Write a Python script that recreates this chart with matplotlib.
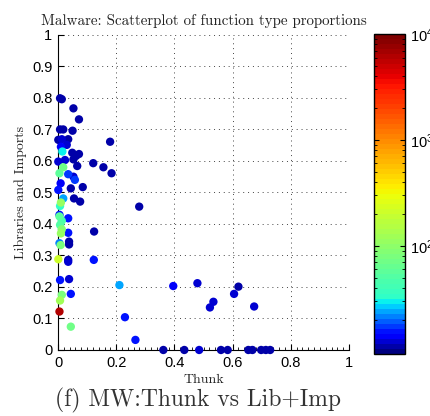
import matplotlib
matplotlib.use("Agg")
import matplotlib.pyplot as plt
import numpy as np
from matplotlib.colors import ListedColormap, LogNorm
from matplotlib.ticker import MultipleLocator

# Thunk proportion, Libraries+Imports proportion, sample count (colour)
thunk = [0.007, 0.013, 0.053, 0.072, 0.007, 0.018, 0.050, 0.001, 0.013, 0.035,
         0.030, 0.010, 0.015, 0.049, 0.072, 0.062, 0.053, 0.024, 0.001, 0.066,
         0.018, 0.005, 0.035, 0.053, 0.058, 0.009, 0.044, 0.085, 0.001, 0.018,
         0.055, 0.076, 0.010, 0.007, 0.005, 0.005, 0.035, 0.013, 0.007, 0.013,
         0.010, 0.035, 0.005, 0.009, 0.038, 0.038, 0.001, 0.035, 0.035, 0.007,
         0.038, 0.013, 0.044, 0.007, 0.005, 0.044,
         0.179, 0.121, 0.156, 0.184, 0.279, 0.124, 0.123, 0.211, 0.396, 0.479,
         0.230, 0.266, 0.522, 0.534, 0.605, 0.620, 0.674,
         0.362, 0.434, 0.485, 0.560, 0.583, 0.654, 0.668, 0.698, 0.714, 0.729]
lib_imp = [0.799, 0.796, 0.767, 0.732, 0.700, 0.700, 0.696, 0.667, 0.669, 0.669,
           0.651, 0.645, 0.630, 0.626, 0.622, 0.616, 0.605, 0.603, 0.598, 0.584,
           0.580, 0.561, 0.558, 0.550, 0.540, 0.529, 0.513, 0.517, 0.508, 0.481,
           0.481, 0.471, 0.468, 0.457, 0.429, 0.424, 0.418, 0.410, 0.397, 0.383,
           0.370, 0.372, 0.339, 0.333, 0.344, 0.335, 0.288, 0.286, 0.280, 0.222,
           0.225, 0.175, 0.178, 0.157, 0.122, 0.074,
           0.661, 0.593, 0.580, 0.561, 0.455, 0.376, 0.286, 0.206, 0.203, 0.212,
           0.104, 0.032, 0.135, 0.153, 0.178, 0.201, 0.138,
           0, 0, 0, 0, 0, 0, 0, 0, 0, 0]
count = [11, 11, 11, 11, 11, 11, 11, 11, 12, 11,
         12, 14, 30, 11, 11, 11, 11, 13, 13, 11,
         70, 55, 17, 12, 17, 14, 11, 11, 15, 25,
         11, 11, 110, 32, 16, 55, 16, 45, 50, 90,
         110, 16, 22, 80, 11, 11, 200, 11, 12, 16,
         13, 75, 16, 120, 6000, 70,
         11, 11, 11, 11, 11, 11, 15, 25, 14, 12,
         16, 15, 12, 12, 12, 11, 12,
         11, 11, 13, 11, 11, 11, 11, 11, 11, 11]

# jet, with blue..cyan squeezed into the bottom of the bar (as in the original figure)
jet = plt.get_cmap("jet")
t = np.linspace(0, 1, 64)
j = np.where(t < 0.165, t / 0.165 * 0.375, 0.40 + (t - 0.165) / 0.835 * 0.6)
cmap = ListedColormap(jet(j))
norm = LogNorm(vmin=9.5, vmax=1e4)

serif = "cmr10"
plt.rcParams["font.family"] = "Liberation Sans"

fig = plt.figure(figsize=(4.31, 4.16), dpi=100)
ax = fig.add_axes([0.1346, 0.1587, 0.6752, 0.7573])

order = np.argsort(count)
sc = ax.scatter(np.array(thunk)[order], np.array(lib_imp)[order], c=np.array(count)[order],
                cmap=cmap, norm=norm, s=36, edgecolors="none", clip_on=False, zorder=3)

ax.set_xlim(0, 1)
ax.set_ylim(0, 1)
ax.set_xticks([0, 0.2, 0.4, 0.6, 0.8, 1])
ax.set_xticklabels(["0", "0.2", "0.4", "0.6", "0.8", "1"])
ax.set_yticks(np.arange(0, 1.01, 0.1))
ax.set_yticklabels(["0"] + ["%.1f" % v for v in np.arange(0.1, 0.95, 0.1)] + ["1"])
ax.xaxis.set_minor_locator(MultipleLocator(0.02))
ax.tick_params(direction="in", labelsize=10.5, length=4, width=0.8, pad=4)
ax.tick_params(axis="x", which="minor", direction="in", length=2, width=0.6)
for s in ["top", "right"]:
    ax.spines[s].set_visible(False)
ax.grid(True, linestyle=(0, (1, 4)), color="#444444", linewidth=0.7)
ax.set_axisbelow(True)

ax.set_title("Malware: Scatterplot of function type proportions", family=serif,
             fontsize=10.8, pad=7, color="#222222")
ax.set_xlabel("Thunk", family=serif, fontsize=10, labelpad=3, color="#222222")
ax.set_ylabel("Libraries and Imports", family=serif, fontsize=10, labelpad=4,
              color="#222222")

cax = fig.add_axes([0.868, 0.149, 0.072, 0.769])
cb = fig.colorbar(sc, cax=cax)
cb.set_ticks([1e2, 1e3, 1e4])
cb.ax.tick_params(which="both", direction="in", labelsize=10.5, left=True, right=True)
cb.outline.set_linewidth(1.0)

fig.text(0.46, 0.022, "(f) MW:Thunk vs Lib+Imp", family=serif, fontsize=17,
         ha="center", color="#333333")

fig.savefig("out.png", dpi=100)
